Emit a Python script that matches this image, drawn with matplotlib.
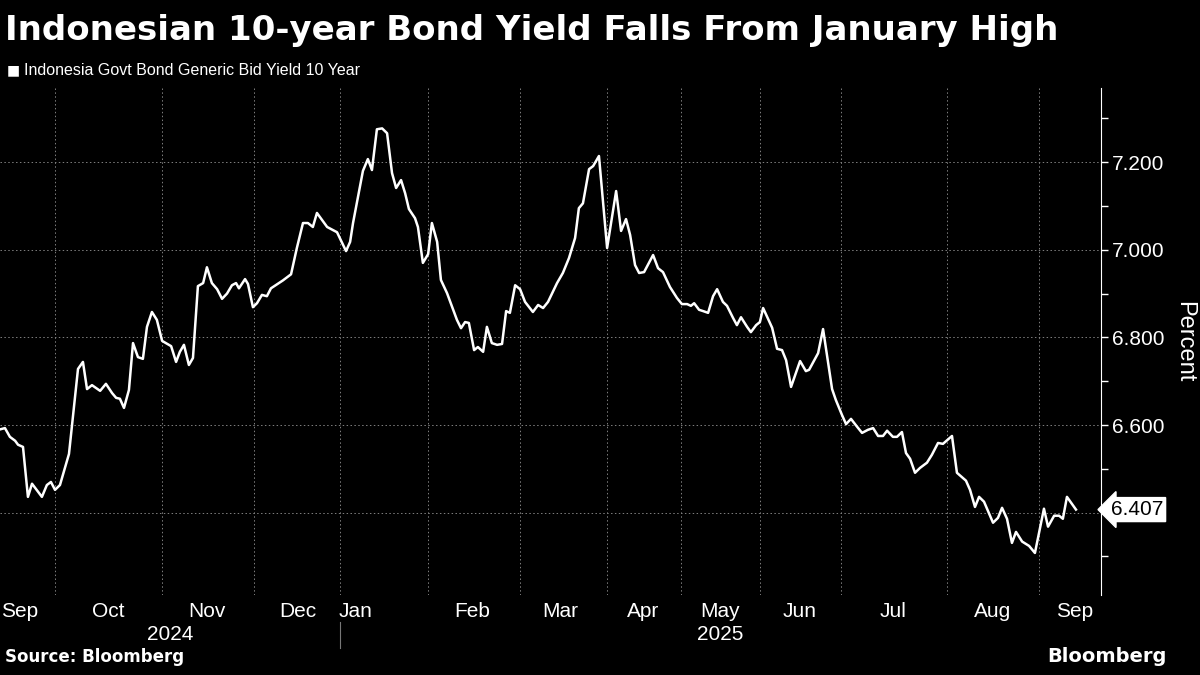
import matplotlib
matplotlib.use("Agg")
import matplotlib.pyplot as plt
import numpy as np
from datetime import datetime, timedelta

start = datetime(2024, 9, 9)
days = [0,1.7,3.4,5.2,6.2,7.9,9.6,11,14.4,16.1,17.5,18.9,20.6,23.7,26.8,28.5,29.9,31.6,34.4,36.4,38.5,39.9,41.2,42.6,44.3,45.7,47.4,49.1,50.5,52.2,53.9,55.7,58.8,60.5,61.8,63.2,64.9,66.3,68,69.8,71.1,72.8,74.6,76.3,78,79.7,81.1,82.1,84.2,85.2,86.9,88.3,90,91.7,93.1,97.2,100,102,104.1,105.8,107.5,108.9,112.4,115.8,118.9,120.3,121.3,123,124.7,126.4,127.8,129.5,131.3,133,134.7,136.1,
        137.8,139.2,140.5,142.6,143.6,145.3,147.1,148.4,150.2,151.5,153.6,157,158.4,159.8,161.1,162.9,164.2,166,167.3,169,170.8,172.5,173.9,175.2,177,178.7,180.4,183.1,184.9,186.6,188.3,191.4,193.4,195.5,197.6,198.9,200.3,202.4,203.8,205.8,208.6,211.7,213.4,215.1,216.5,218.2,219.6,221.3,224.4,226.1,227.8,230.2,232.6,234.3,236.1,237.4,238.5,240.2,241.6,243.3,245,246.4,248.4,249.8,251.9,253.2,254.6,256.7,258,259.8,261.1,262.2,265.3,267,268.7,270.1,271.8,274.9,276.9,278,281.1,282.8,285.9,287.2,289.3,290.7,292.4,294.5,296.2,298.2,300,301.7,303.4,304.8,306.8,308.2,309.9,311.3,312.7,314.4,316.1,318.5,320.2,322.3,324,327.1,328.8,331.9,333.3,335,336.4,338.1,341.2,342.9,344.3,346,347.7,349.1,351.2,353.6,355.6,358.7,360.1,362.2,363.9,365.2,366.6,369.7]
yields = [6.59,6.593,6.573,6.564,6.555,6.55,6.436,6.466,6.436,6.463,6.47,6.452,6.463,6.534,6.728,6.744,6.682,6.691,6.678,6.694,6.673,6.662,6.66,6.639,6.68,6.787,6.755,6.751,6.824,6.858,6.84,6.792,6.78,6.744,6.767,6.783,6.737,6.753,6.917,6.924,6.96,6.924,6.91,6.888,6.9,6.919,6.924,6.912,6.933,6.922,6.869,6.878,6.897,6.894,6.912,6.93,6.944,7.004,7.061,7.061,7.052,7.084,7.052,7.04,6.997,7.018,7.061,7.12,7.18,7.207,7.182,7.275,7.277,7.266,7.175,7.141,
          7.159,7.129,7.093,7.072,7.052,6.97,6.99,7.061,7.018,6.931,6.901,6.84,6.821,6.835,6.833,6.771,6.778,6.767,6.824,6.787,6.783,6.785,6.86,6.856,6.919,6.91,6.881,6.858,6.874,6.867,6.881,6.924,6.947,6.981,7.027,7.095,7.106,7.184,7.191,7.214,7.004,7.134,7.043,7.07,7.034,6.965,6.947,6.949,6.988,6.958,6.949,6.915,6.89,6.876,6.876,6.872,6.878,6.863,6.86,6.856,6.894,6.91,6.881,6.872,6.844,6.828,6.846,6.824,6.812,6.828,6.835,6.867,6.822,6.774,6.771,6.748,6.687,6.746,6.723,6.726,6.764,6.819,6.682,6.657,6.623,6.602,6.614,6.596,6.582,6.589,6.593,6.575,6.575,6.587,6.573,6.573,6.584,6.536,6.523,6.491,6.502,6.514,6.532,6.559,6.557,6.575,6.491,6.473,6.452,6.413,6.436,6.425,6.377,6.388,6.411,6.386,6.331,6.356,6.334,6.324,6.308,6.409,6.368,6.393,6.393,6.386,6.436,6.407]
month_labels = ["Sep","Oct","Nov","Dec","Jan","Feb","Mar","Apr","May","Jun","Jul","Aug","Sep"]
month_label_days = [6.9,37.1,71.1,102.4,122,162.2,192.4,221,247.4,274.9,306.8,341.2,369.4]
grid_days = [18.9,55.7,87.3,116.8,147.1,178.7,208.6,234,261.1,289,325.4,357]
y_ticks = [6.4,6.6,6.8,7.0,7.2]
last_value = 6.407

dates = [start + timedelta(days=d) for d in days]
fig = plt.figure(figsize=(12, 6.75), dpi=100, facecolor="black")
ax = fig.add_axes([0, 0.1185, 0.9175, 0.751], facecolor="black")
ax.plot(dates, yields, color="white", lw=1.8, zorder=3)
ax.set_xlim(start, start + timedelta(days=378.3))
ax.set_ylim(6.212, 7.369)
for g in grid_days:
    ax.axvline(start + timedelta(days=g), color="#808080", ls=(0, (1.5, 2.5)), lw=0.7, zorder=1)
for yv in y_ticks:
    ax.axhline(yv, color="#808080", ls=(0, (1.5, 2.5)), lw=0.7, zorder=1)
for s in ["left", "top", "bottom"]:
    ax.spines[s].set_visible(False)
ax.spines["right"].set_color("white")
ax.yaxis.tick_right()
ax.set_yticks(y_ticks)
ax.set_yticklabels(["" if abs(v - 6.4) < 1e-9 else f"{v:.3f}" for v in y_ticks],
                   color="white", fontsize=15, fontfamily="Liberation Sans")
ax.set_yticks([6.3, 6.5, 6.7, 6.9, 7.1, 7.3], minor=True)
ax.tick_params(axis="y", which="both", colors="white", length=5, width=1, pad=3)
ax.set_xticks([start + timedelta(days=d) for d in month_label_days])
ax.set_xticklabels(month_labels, color="white", fontsize=15, fontfamily="Liberation Sans")
ax.tick_params(axis="x", length=0, pad=5)
ax.yaxis.set_label_position("right")
ax.set_ylabel("Percent", color="white", fontsize=17, rotation=270, labelpad=22, fontfamily="Liberation Sans")

ax.annotate(f"{last_value:.3f}", xy=(1.0, last_value), xycoords=("axes fraction", "data"),
            xytext=(7, 0), textcoords="offset points", va="center", ha="left",
            fontsize=15, color="black", fontfamily="Liberation Sans",
            bbox=dict(boxstyle="larrow,pad=0.12", fc="white", ec="white"), annotation_clip=False)

fig.text(170/1200, 1-634/675, "2024", color="white", fontsize=15, ha="center", va="center", fontfamily="Liberation Sans")
fig.text(720/1200, 1-634/675, "2025", color="white", fontsize=15, ha="center", va="center", fontfamily="Liberation Sans")
fig.add_artist(plt.Line2D([340/1200, 340/1200], [1-648/675, 1-622/675], color="#777777", lw=0.8))

fig.text(0.004, 0.955, "Indonesian 10-year Bond Yield Falls From January High", color="white",
         fontsize=24.5, fontweight="bold", va="center", fontfamily="DejaVu Sans")
fig.text(0.006, 0.896, "\u25A0", color="white", fontsize=10, va="center")
fig.text(0.02, 0.896, "Indonesia Govt Bond Generic Bid Yield 10 Year", color="white", fontsize=11.5,
         va="center", fontfamily="Liberation Sans")
fig.text(0.004, 0.019, "Source: Bloomberg", color="white", fontsize=12, fontweight="bold", fontfamily="DejaVu Sans")
fig.text(0.972, 0.019, "Bloomberg", color="white", fontsize=14, fontweight="bold", ha="right", fontfamily="DejaVu Sans")
fig.savefig("out.png", dpi=100, facecolor="black")
